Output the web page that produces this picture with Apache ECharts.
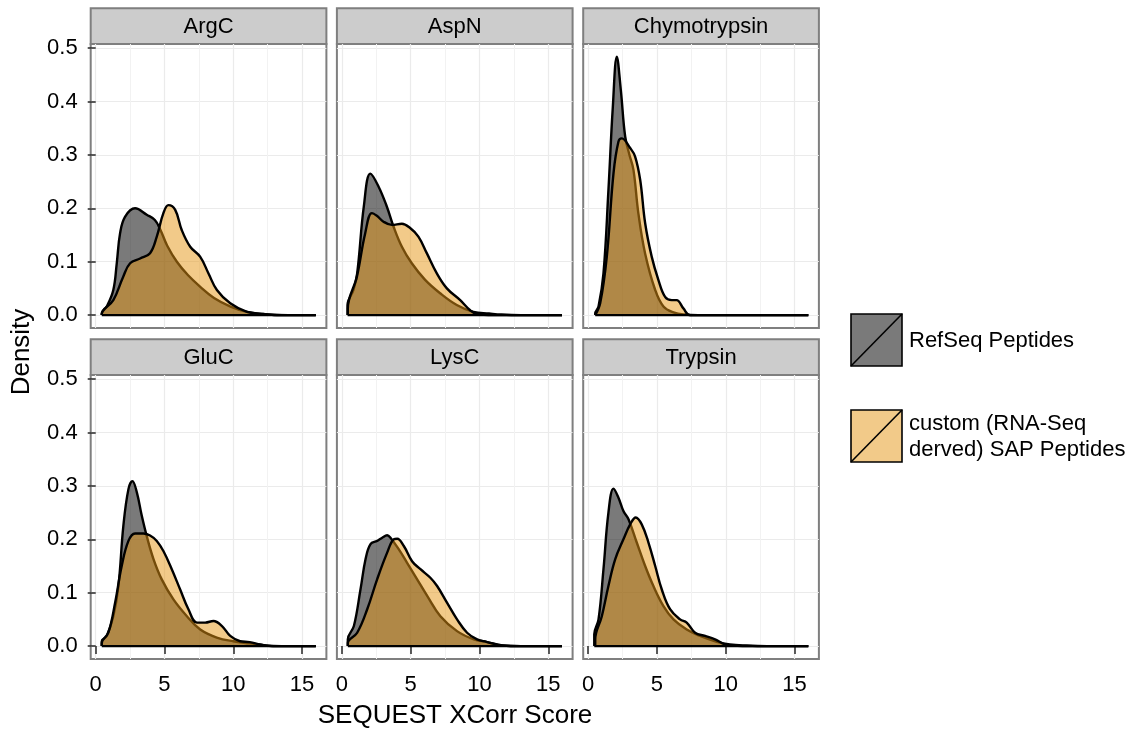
<!DOCTYPE html>
<html>
<head>
<meta charset="utf-8">
<script src="https://cdn.jsdelivr.net/npm/echarts@6/dist/echarts.min.js"></script>
<style>
html, body { margin: 0; padding: 0; background: #fff; }
#main { width: 1136px; height: 729px; }
</style>
</head>
<body>
<div id="main"></div>
<script>
// facet names, in reading order
var enzymes = ['ArgC', 'AspN', 'Chymotrypsin', 'GluC', 'LysC', 'Trypsin']
var seriesNames = ['RefSeq Peptides', 'custom (RNA-Seq\nderved) SAP Peptides']

// tick positions
var xTicks = [0, 5, 10, 15]
var yTicks = [0, 0.1, 0.2, 0.3, 0.4, 0.5]

// density curves: [xcorr, density]
var argcRef = [[0.44, 0], [0.44, 0.003], [0.8, 0.016], [1.28, 0.047], [1.53, 0.097], [1.77, 0.153], [2.13, 0.184], [2.86, 0.2], [3.71, 0.188], [4.3, 0.178], [4.7, 0.16], [5.2, 0.13], [5.9, 0.1], [6.7, 0.075], [7.6, 0.053], [8.6, 0.032], [9.8, 0.016], [11, 0.006], [12.5, 0.001], [14, 0], [16, 0]]
var argcCustom = [[0.44, 0], [0.44, 0.002], [1.28, 0.028], [2.0, 0.072], [2.5, 0.097], [3.23, 0.106], [3.95, 0.116], [4.44, 0.147], [4.92, 0.191], [5.29, 0.206], [5.78, 0.197], [6.26, 0.159], [6.87, 0.128], [7.6, 0.109], [8.2, 0.078], [8.81, 0.047], [9.78, 0.022], [11, 0.006], [12.2, 0.002], [13.5, 0], [16, 0]]
var aspnRef = [[0.41, 0], [0.41, 0.019], [0.84, 0.047], [1.11, 0.078], [1.6, 0.205], [2.07, 0.265], [2.66, 0.241], [3.27, 0.203], [3.75, 0.166], [4.36, 0.128], [5.08, 0.097], [6.05, 0.066], [7.14, 0.041], [8.35, 0.019], [9.56, 0.006], [10.7, 0.003], [11.6, 0.001], [13, 0], [16, 0]]
var aspnCustom = [[0.43, 0], [0.43, 0.0125], [1.09, 0.072], [1.69, 0.153], [2.18, 0.191], [2.54, 0.186], [3.02, 0.175], [3.63, 0.169], [4.36, 0.171], [4.96, 0.163], [5.56, 0.147], [6.17, 0.116], [6.9, 0.078], [7.63, 0.05], [8.6, 0.028], [9.32, 0.009], [9.8, 0.002], [11, 0], [16, 0]]
var chymoRef = [[0.51, 0], [0.51, 0.003], [0.75, 0.016], [1.11, 0.078], [1.47, 0.234], [1.79, 0.39], [2.08, 0.484], [2.37, 0.422], [2.69, 0.334], [3.0, 0.3], [3.29, 0.272], [3.65, 0.19], [4.14, 0.115], [4.87, 0.047], [5.47, 0.016], [6.2, 0.005], [7, 0.001], [8, 0], [16, 0]]
var chymoCustom = [[0.51, 0], [0.87, 0.022], [1.35, 0.109], [1.84, 0.266], [2.2, 0.325], [2.44, 0.331], [3.05, 0.313], [3.41, 0.297], [3.78, 0.253], [4.14, 0.172], [4.62, 0.109], [5.1, 0.066], [5.59, 0.034], [6.07, 0.028], [6.43, 0.028], [6.92, 0.0125], [7.4, 0], [16, 0]]
var glucRef = [[0.44, 0], [0.44, 0.009], [0.8, 0.019], [1.28, 0.056], [1.65, 0.112], [2.01, 0.225], [2.38, 0.294], [2.67, 0.309], [2.99, 0.288], [3.35, 0.244], [3.71, 0.206], [4.2, 0.163], [4.8, 0.125], [5.65, 0.0875], [6.63, 0.056], [7.6, 0.031], [8.8, 0.016], [10, 0.009], [11.2, 0.005], [12.4, 0.001], [13.5, 0], [16, 0]]
var glucCustom = [[0.44, 0], [0.44, 0.006], [0.92, 0.025], [1.41, 0.081], [1.89, 0.15], [2.38, 0.197], [2.86, 0.211], [3.47, 0.211], [3.95, 0.207], [4.44, 0.197], [4.92, 0.178], [5.53, 0.144], [6.14, 0.106], [6.74, 0.069], [7.36, 0.044], [7.96, 0.044], [8.56, 0.047], [9.18, 0.0375], [9.78, 0.019], [10.5, 0.009], [11.2, 0.0075], [11.97, 0.003], [12.8, 0], [16, 0]]
var lyscRef = [[0.43, 0], [0.43, 0.0125], [0.87, 0.0375], [1.35, 0.106], [1.72, 0.163], [2.08, 0.191], [2.56, 0.197], [2.93, 0.203], [3.29, 0.2075], [3.53, 0.203], [4.14, 0.181], [4.74, 0.156], [5.47, 0.125], [6.2, 0.094], [7.16, 0.056], [8.37, 0.028], [9.59, 0.0125], [10.5, 0.008], [11.7, 0.001], [13, 0], [16, 0]]
var lyscCustom = [[0.43, 0], [0.43, 0.006], [1.11, 0.025], [1.84, 0.069], [2.56, 0.125], [3.29, 0.175], [3.78, 0.2], [4.02, 0.201], [4.5, 0.1875], [5.1, 0.159], [5.71, 0.144], [6.43, 0.128], [6.92, 0.1125], [7.65, 0.081], [8.37, 0.05], [9.1, 0.025], [9.83, 0.0125], [10.5, 0.008], [11.7, 0.001], [13, 0], [16, 0]]
var trypsinRef = [[0.44, 0], [0.44, 0.022], [0.75, 0.05], [1.11, 0.144], [1.47, 0.25], [1.84, 0.295], [2.2, 0.278], [2.56, 0.253], [2.93, 0.2375], [3.53, 0.194], [4.14, 0.15], [4.74, 0.1125], [5.47, 0.075], [6.2, 0.05], [7.16, 0.031], [8.13, 0.019], [9.34, 0.008], [10.3, 0.003], [11.5, 0.001], [13, 0], [16, 0]]
var trypsinCustom = [[0.51, 0], [0.51, 0.0125], [0.99, 0.056], [1.47, 0.1125], [1.96, 0.1625], [2.56, 0.2], [3.05, 0.228], [3.46, 0.241], [3.89, 0.228], [4.38, 0.194], [4.87, 0.15], [5.35, 0.106], [5.95, 0.069], [6.68, 0.05], [7.16, 0.044], [7.77, 0.025], [8.5, 0.019], [9.22, 0.0125], [9.95, 0.003], [10.5, 0.001], [12, 0], [16, 0]]

var refCurves = [argcRef, aspnRef, chymoRef, glucRef, lyscRef, trypsinRef]
var customCurves = [argcCustom, aspnCustom, chymoCustom, glucCustom, lyscCustom, trypsinCustom]

// axis ranges (ggplot adds 5% on each side)
var xRange = [-0.364, 16.77]
var yRange = [-0.0242, 0.5078]

var font = "'Liberation Sans', Arial, Helvetica, sans-serif"
var refFill = 'rgba(0,0,0,0.52)'
var customFill = 'rgba(230,150,20,0.5)'

// panel layout
var colLeft = [90.7, 336.9, 583.2]
var rowTop = [8.3, 339.3]
var panelW = 235.7
var stripH = 35.7
var plotH = 284

var chartDom = document.getElementById('main')
var myChart = echarts.init(chartDom)
var option

var grids = []
var xAxes = []
var yAxes = []
var series = []
var graphics = []

enzymes.forEach(function (name, i) {
  var col = i % 3
  var row = Math.floor(i / 3)
  var left = colLeft[col]
  var top = rowTop[row]

  grids.push({
    left: left,
    top: top + stripH,
    width: panelW,
    height: plotH,
    show: true,
    borderColor: '#7f7f7f',
    borderWidth: 2,
    backgroundColor: '#fff'
  })

  xAxes.push({
    type: 'value',
    gridIndex: i,
    min: xRange[0],
    max: xRange[1],
    splitNumber: 3,
    axisLine: { show: false },
    axisTick: { show: row === 1, length: 8, customValues: xTicks, lineStyle: { color: '#333', width: 1.6 } },
    axisLabel: {
      show: row === 1,
      customValues: xTicks,
      fontSize: 22,
      fontFamily: font,
      color: '#000',
      margin: 15
    },
    splitLine: { show: true, lineStyle: { color: '#ebebeb', width: 1.2 } },
    minorTick: { show: false, splitNumber: 2 },
    minorSplitLine: { show: true, lineStyle: { color: '#f2f2f2', width: 1 } }
  })

  yAxes.push({
    type: 'value',
    gridIndex: i,
    min: yRange[0],
    max: yRange[1],
    splitNumber: 5,
    axisLine: { show: false },
    axisTick: { show: col === 0, length: 8, customValues: yTicks, lineStyle: { color: '#333', width: 1.6 } },
    axisLabel: {
      show: col === 0,
      customValues: yTicks,
      fontSize: 22,
      fontFamily: font,
      color: '#000',
      margin: 13,
      formatter: function (v) { return v.toFixed(1) }
    },
    splitLine: { show: true, lineStyle: { color: '#ebebeb', width: 1.2 } }
  })

  var ref = refCurves[i]
  var custom = customCurves[i]

  series.push({
    name: seriesNames[0],
    type: 'line',
    xAxisIndex: i,
    yAxisIndex: i,
    data: ref,
    smooth: 0.4,
    symbol: 'none',
    lineStyle: { color: '#000', width: 2.4 },
    areaStyle: { color: refFill, opacity: 1 },
    z: 2
  })
  series.push({
    name: seriesNames[1],
    type: 'line',
    xAxisIndex: i,
    yAxisIndex: i,
    data: custom,
    smooth: 0.4,
    symbol: 'none',
    lineStyle: { color: '#000', width: 2.4 },
    areaStyle: { color: customFill, opacity: 1 },
    z: 3
  })
  // polygon bottom edge, like ggplot's density outline
  var x0 = Math.min(ref[0][0], custom[0][0])
  var x1 = Math.max(ref[ref.length - 1][0], custom[custom.length - 1][0])
  series.push({
    type: 'line',
    xAxisIndex: i,
    yAxisIndex: i,
    data: [[x0, 0], [x1, 0]],
    symbol: 'none',
    silent: true,
    lineStyle: { color: '#000', width: 2.4 },
    z: 4
  })

  // facet strip
  graphics.push({
    type: 'rect',
    shape: { x: left, y: top, width: panelW, height: stripH },
    style: { fill: '#cccccc', stroke: '#7f7f7f', lineWidth: 2 }
  })
  graphics.push({
    type: 'text',
    x: left + panelW / 2,
    y: top + stripH / 2 + 1,
    style: { text: name, font: '22px ' + font, fill: '#000', align: 'center', verticalAlign: 'middle' }
  })
})

// axis titles
graphics.push({
  type: 'text',
  x: 455,
  y: 716,
  style: { text: 'SEQUEST XCorr Score', font: '26px ' + font, fill: '#000', align: 'center', verticalAlign: 'middle' }
})
graphics.push({
  type: 'text',
  x: 22,
  y: 352,
  rotation: Math.PI / 2,
  style: { text: 'Density', font: '26px ' + font, fill: '#000', align: 'center', verticalAlign: 'middle' }
})

// legend keys
var legendTop = [314, 410]
var legendFill = [refFill, customFill]
legendTop.forEach(function (ky, k) {
  graphics.push({
    type: 'rect',
    shape: { x: 851, y: ky, width: 51, height: 52 },
    style: { fill: legendFill[k], stroke: '#000', lineWidth: 1.6 }
  })
  graphics.push({
    type: 'line',
    shape: { x1: 851, y1: ky + 52, x2: 902, y2: ky },
    style: { stroke: '#000', lineWidth: 1.6 }
  })
  graphics.push({
    type: 'text',
    x: 909,
    y: ky + 27,
    style: { text: seriesNames[k], font: '22px ' + font, fill: '#000', align: 'left', verticalAlign: 'middle', lineHeight: 26 }
  })
})

option = {
  backgroundColor: '#fff',
  animation: false,
  grid: grids,
  xAxis: xAxes,
  yAxis: yAxes,
  series: series,
  graphic: graphics
}

option && myChart.setOption(option)
</script>
</body>
</html>
